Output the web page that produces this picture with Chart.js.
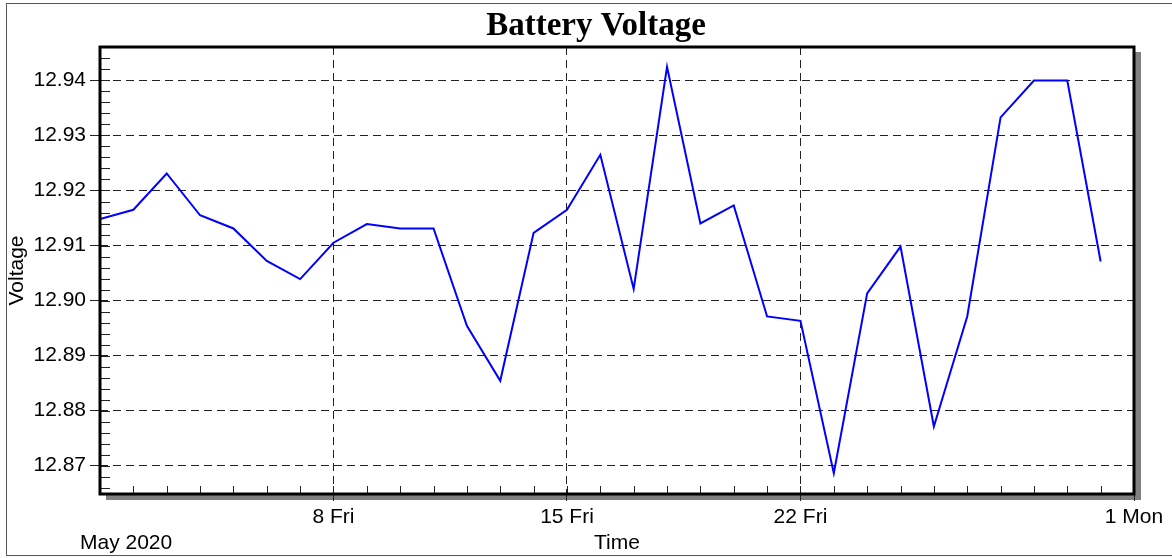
<!DOCTYPE html>
<html><head><meta charset="utf-8">
<script src="https://cdn.jsdelivr.net/npm/chart.js@4.4.1/dist/chart.umd.min.js"></script>
<style>html,body{margin:0;padding:0;background:#fff;}canvas{display:block;}</style>
</head><body>
<canvas id="c" width="1172" height="558"></canvas>
<script>
// ---- data ----
const days = [1,2,3,4,5,6,7,8,9,10,11,12,13,14,15,16,17,18,19,20,21,22,23,24,25,26,27,28,29,30,31];
const voltage = [12.9148,12.9165,12.9231,12.9155,12.9131,12.9072,12.9039,12.9105,12.9139,12.9131,
                 12.9131,12.8954,12.8854,12.9123,12.9165,12.9265,12.9021,12.9425,12.9140,12.9173,
                 12.8971,12.8963,12.8686,12.9013,12.9098,12.8771,12.8971,12.9333,12.9400,12.9400,12.9071];
const xTickValues = [8,15,22,32];
const xTickLabels = ['8 Fri','15 Fri','22 Fri','1 Mon'];
const yTickValues = [12.87,12.88,12.89,12.90,12.91,12.92,12.93,12.94];
const monthLabel = 'May 2020';
const chartTitle = 'Battery Voltage';
const xTitle = 'Time';
const yTitle = 'Voltage';
const xMin = 1, xMax = 32;
const yMin = 12.86482, yMax = 12.94609;

const SANS = "'Liberation Sans', Arial, sans-serif";
const FS = 21;

const decor = {
  id: 'decor',
  beforeDraw(chart) {
    const {ctx, chartArea: a} = chart;
    ctx.save();
    ctx.fillStyle = '#fff';
    ctx.fillRect(0, 0, chart.width, chart.height);
    ctx.strokeStyle = '#555';
    ctx.lineWidth = 1;
    ctx.strokeRect(6.5, 3.5, chart.width + 10, 552);
    ctx.fillStyle = '#808080';
    ctx.fillRect(a.left + 6, a.top + 5, a.right - a.left + 1, a.bottom - a.top + 1);
    ctx.fillStyle = '#fff';
    ctx.fillRect(a.left, a.top, a.right - a.left, a.bottom - a.top);
    ctx.restore();
  },
  afterDraw(chart) {
    const {ctx, chartArea: a, scales} = chart;
    const xs = scales.x, ys = scales.y;
    ctx.save();
    ctx.strokeStyle = '#222';
    ctx.lineWidth = 1;
    ctx.beginPath();
    for (let d = xMin; d <= xMax; d++) {
      const px = Math.round(xs.getPixelForValue(d)) + 0.5;
      ctx.moveTo(px, a.bottom);
      ctx.lineTo(px, a.bottom - 8);
    }
    for (let k = Math.ceil(yMin / 0.002); k * 0.002 <= yMax; k++) {
      const py = Math.round(ys.getPixelForValue(k * 0.002)) + 0.5;
      ctx.moveTo(a.left, py);
      ctx.lineTo(a.left + 10, py);
    }
    ctx.stroke();
    ctx.strokeStyle = '#000';
    ctx.lineWidth = 3;
    ctx.strokeRect(a.left, a.top, a.right - a.left, a.bottom - a.top);
    ctx.fillStyle = '#000';
    ctx.font = FS + 'px ' + SANS;
    ctx.textAlign = 'left';
    ctx.textBaseline = 'middle';
    ctx.fillText(monthLabel, 80, 543.3);
    ctx.restore();
  }
};

new Chart(document.getElementById('c'), {
  type: 'line',
  data: {
    datasets: [{
      label: yTitle,
      data: days.map((d, i) => ({x: d, y: voltage[i]})),
      borderColor: '#0000ff',
      borderWidth: 2,
      pointRadius: 0,
      tension: 0,
      fill: false
    }]
  },
  options: {
    responsive: false,
    animation: false,
    devicePixelRatio: 1,
    layout: {padding: {left: 20, right: 0, top: 0, bottom: 0}},
    plugins: {
      legend: {display: false},
      tooltip: {enabled: false},
      title: {
        display: true,
        text: chartTitle,
        color: '#000',
        font: {family: "'Liberation Serif', 'Times New Roman', serif", size: 33, weight: 'bold'},
        padding: {top: 6.4, bottom: 1.0}
      }
    },
    scales: {
      x: {
        type: 'linear',
        min: xMin, max: xMax,
        afterBuildTicks(s) { s.ticks = xTickValues.map(v => ({value: v})); },
        afterFit(s) { s.height = 64; s.paddingRight = 38; s.paddingLeft = 0; },
        ticks: {
          autoSkip: false, maxRotation: 0, minRotation: 0,
          color: '#000', padding: 4,
          font: {family: SANS, size: FS},
          callback: (v) => xTickLabels[xTickValues.indexOf(v)] ?? ''
        },
        grid: {color: '#222', lineWidth: 1, tickLength: 7, tickColor: '#222', tickWidth: 1},
        border: {display: false, dash: [8, 5]},
        title: {display: true, text: xTitle, color: '#000', font: {family: SANS, size: FS}, padding: {top: 0, bottom: 2.1}}
      },
      y: {
        type: 'linear',
        min: yMin, max: yMax,
        afterBuildTicks(s) { s.ticks = yTickValues.map(v => ({value: v})); },
        afterFit(s) { s.width = 80; },
        ticks: {
          color: '#000', padding: 4,
          font: {family: SANS, size: FS},
          callback: (v) => v.toFixed(2)
        },
        grid: {color: '#222', lineWidth: 1, tickLength: 10, tickColor: '#222', tickWidth: 1},
        border: {display: false, dash: [8, 5]},
        title: {display: true, text: yTitle, color: '#000', font: {family: SANS, size: FS}, padding: {top: -15, bottom: 0}}
      }
    }
  },
  plugins: [decor]
});
</script>
</body></html>
